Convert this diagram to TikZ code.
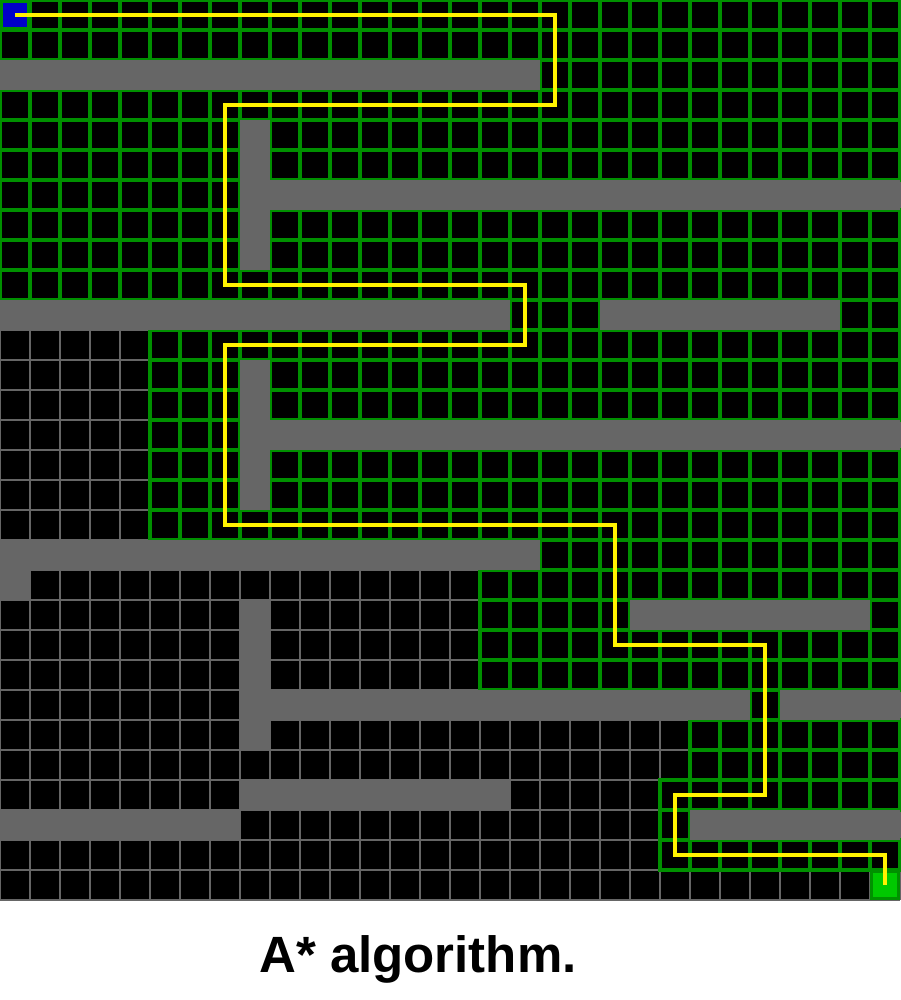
\documentclass[tikz,border=0pt]{standalone}
\usepackage{fontspec}
\setmainfont{Liberation Sans}
\definecolor{wallgray}{RGB}{102,102,102}
\definecolor{seengreen}{RGB}{0,144,0}
\definecolor{startblue}{RGB}{0,0,200}
\definecolor{goalgreen}{RGB}{0,200,0}
\begin{document}
\begin{tikzpicture}[x=1pt, y=-1pt,
    cellline/.style={draw=wallgray, line width=1.2pt},
    visited/.style={draw=seengreen, line width=3.6pt},
    wall/.style={fill=wallgray},
    startcell/.style={draw=seengreen, line width=3.6pt, fill=startblue, minimum size=27pt, inner sep=0pt},
    goalcell/.style={draw=seengreen, line width=3.6pt, fill=goalgreen, minimum size=27pt, inner sep=0pt},
    route/.style={draw=yellow, line width=4.5pt, line join=miter}]
    \useasboundingbox (0,0) rectangle (900,1000);
    \fill[white] (0,0) rectangle (900,1000);
    \fill[black] (0,0) rectangle (900,900);

    % grid
    \foreach \i in {0,...,30} {
        \draw[cellline] (\i*30,0) -- (\i*30,900);
        \draw[cellline] (0,\i*30) -- (900,\i*30);
    }

    % visited cells: row/first/last
    \foreach \r/\a/\b in {0/0/29, 1/0/29, 2/18/29, 3/0/29,
        4/0/7, 4/9/29, 5/0/7, 5/9/29, 6/0/7, 7/0/7, 7/9/29, 8/0/7, 8/9/29, 9/0/29,
        10/17/19, 10/28/29, 11/5/29,
        12/5/7, 12/9/29, 13/5/7, 13/9/29, 14/5/7, 15/5/7, 15/9/29, 16/5/7, 16/9/29,
        17/5/29, 18/18/29, 19/16/29, 20/16/20, 20/29/29, 21/16/29, 22/16/29,
        23/25/25, 24/23/29, 25/23/29, 26/22/29, 27/22/22, 28/22/29}
        \foreach \c in {\a,...,\b}
            \draw[visited] (\c*30,\r*30) rectangle ++(30,30);

    % walls: col/row/width/height
    \foreach \x/\y/\w/\h in {0/2/18/1, 8/4/1/5, 9/6/21/1, 0/10/17/1, 20/10/8/1,
        8/12/1/5, 9/14/21/1, 0/18/18/1, 0/19/1/1, 21/20/8/1, 8/20/1/5,
        9/23/16/1, 26/23/4/1, 8/26/9/1, 0/27/8/1, 23/27/7/1}
        \fill[wall] (\x*30,\y*30) rectangle ++(\w*30,\h*30);

    \node[startcell] (start) at (15,15) {};
    \node[goalcell] (goal) at (885,885) {};

    % path found
    \draw[route] (start.center) -- (555,15) -- (555,105) -- (225,105) -- (225,285)
        -- (525,285) -- (525,345) -- (225,345) -- (225,525) -- (615,525)
        -- (615,645) -- (765,645) -- (765,795) -- (675,795) -- (675,855)
        -- (885,855) -- (goal.center);

    \node[anchor=base, font=\bfseries\fontsize{51}{61}\selectfont] (caption) at (418,972) {A* algorithm.};
\end{tikzpicture}
\end{document}
